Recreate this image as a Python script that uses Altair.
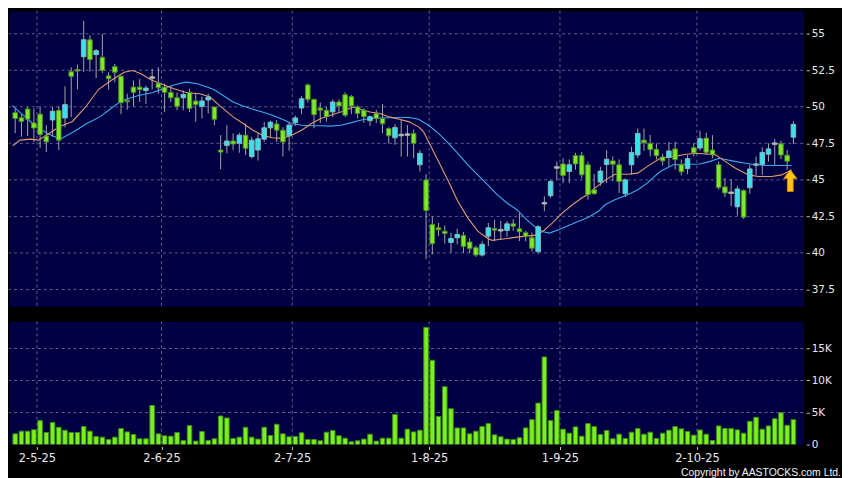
import altair as alt
import pandas as pd

# ---------------- data ----------------
opens = [49.6, 49.25, 49.85, 48.9, 49.5, 48.0, 49.1, 49.76, 49.24, 52.4,
         52.55, 53.43, 54.59, 53.57, 53.39, 52.12, 52.75, 52.1, 50.45, 51.35,
         51.35, 51.12, 52.0, 51.62, 51.35, 50.99, 50.62, 50.62, 50.99, 50.4,
         50.03, 50.47, 49.99, 47.04, 47.36, 47.66, 47.5, 48.06, 46.59, 47.04,
         47.79, 48.56, 48.83, 48.4, 48.02, 48.92, 49.92, 51.5, 50.51, 49.92,
         49.77, 49.65, 50.33, 50.83, 50.7, 49.99, 49.77, 49.05, 49.54, 49.2,
         48.51, 47.88, 48.07, 48.1, 48.18, 46.03, 45.0, 41.95, 41.72, 41.49,
         40.72, 41.04, 41.2, 40.75, 40.36, 39.86, 41.15, 41.68, 41.55, 41.54,
         41.99, 41.65, 41.38, 41.04, 40.09, 43.4, 43.92, 45.85, 46.09, 45.57,
         46.66, 46.66, 46.03, 44.33, 44.85, 46.05, 46.3, 46.03, 44.05, 46.03,
         46.71, 47.72, 47.5, 47.09, 46.57, 46.55, 47.12, 46.05, 45.78, 47.2,
         47.18, 47.86, 47.04, 46.03, 44.52, 44.12, 43.16, 44.27, 44.46, 46.0,
         46.05, 46.76, 47.48, 47.47, 46.69, 47.92]
highs = [49.9, 49.5, 50.0, 49.9, 50.0, 48.75, 50.0, 50.06, 51.4, 52.7,
         52.9, 55.88, 54.9, 53.95, 55.0, 52.37, 52.94, 52.14, 50.9, 51.8,
         51.9, 51.46, 52.6, 52.71, 51.58, 51.35, 50.97, 51.12, 51.24, 50.9,
         50.7, 50.9, 50.0, 48.06, 48.74, 48.18, 48.22, 48.86, 47.95, 48.18,
         48.97, 49.05, 49.1, 48.6, 48.96, 49.4, 50.75, 51.6, 50.55, 50.3,
         50.0, 50.5, 50.5, 51.0, 50.8, 50.1, 49.9, 49.4, 49.8, 50.2,
         48.6, 48.8, 49.1, 48.75, 48.45, 47.04, 45.39, 42.5, 42.06, 41.88,
         41.38, 41.65, 41.43, 41.0, 40.5, 40.8, 42.06, 42.27, 42.2, 42.2,
         42.3, 42.74, 41.5, 41.4, 41.9, 43.87, 45.0, 46.25, 46.48, 46.4,
         46.85, 46.9, 46.25, 45.4, 45.9, 47.04, 46.6, 46.4, 45.1, 47.27,
         48.52, 48.52, 48.07, 47.5, 46.8, 47.6, 47.61, 46.4, 46.7, 47.5,
         48.36, 48.23, 48.06, 46.25, 45.12, 45.05, 44.6, 44.35, 46.03, 46.6,
         47.23, 47.5, 47.79, 47.68, 47.05, 49.02]
lows = [48.2, 47.95, 48.0, 47.6, 47.2, 46.9, 47.95, 47.05, 48.6, 49.3,
        51.2, 52.37, 52.4, 51.96, 52.3, 51.19, 51.69, 49.49, 49.8, 50.0,
        50.33, 50.2, 51.2, 50.9, 49.65, 50.33, 49.76, 49.76, 49.65, 48.97,
        49.2, 49.54, 48.74, 45.73, 46.82, 47.04, 46.86, 46.7, 46.48, 46.32,
        47.61, 47.9, 47.6, 46.6, 47.0, 48.7, 49.5, 50.3, 48.53, 48.9,
        49.0, 49.3, 49.6, 49.3, 49.5, 49.2, 48.9, 48.7, 48.9, 48.2,
        47.5, 47.4, 46.6, 46.6, 46.48, 45.57, 39.57, 39.9, 41.15, 40.63,
        40.02, 40.59, 40.0, 40.0, 39.73, 39.75, 40.47, 40.81, 40.9, 41.1,
        41.5, 40.81, 40.8, 40.1, 39.95, 42.85, 43.76, 45.0, 44.78, 44.78,
        45.7, 45.1, 43.65, 44.0, 44.6, 44.78, 44.9, 44.1, 43.83, 45.35,
        46.5, 47.0, 46.6, 46.4, 46.0, 45.9, 45.7, 45.3, 45.39, 46.6,
        47.0, 46.7, 46.48, 44.33, 43.83, 43.19, 42.56, 42.33, 44.05, 45.35,
        45.35, 46.25, 46.03, 46.41, 45.7, 47.45]
closes = [49.2, 49.0, 49.15, 48.55, 48.1, 47.6, 49.7, 47.72, 50.15, 52.08,
          52.45, 54.59, 53.23, 53.84, 52.49, 51.92, 52.37, 50.28, 50.35, 50.99,
          51.17, 51.28, 52.0, 51.3, 50.99, 50.62, 50.03, 50.85, 49.9, 50.15,
          50.4, 50.67, 49.15, 46.9, 47.66, 47.45, 48.06, 47.16, 47.72, 47.81,
          48.56, 48.95, 48.4, 47.6, 48.75, 49.24, 50.55, 50.51, 49.46, 49.77,
          49.32, 50.33, 50.06, 49.43, 50.06, 49.54, 49.32, 49.32, 49.2, 48.84,
          48.02, 48.58, 48.07, 48.1, 47.5, 46.82, 42.9, 40.63, 41.58, 41.33,
          40.99, 41.27, 40.45, 40.3, 39.86, 40.59, 41.72, 41.56, 41.55, 41.99,
          41.83, 41.45, 41.15, 40.32, 41.79, 43.4, 44.89, 45.85, 45.3, 46.03,
          46.09, 45.35, 43.99, 44.05, 45.6, 46.41, 46.07, 44.89, 45.0, 46.88,
          48.18, 47.54, 47.07, 46.65, 46.3, 46.98, 46.39, 45.55, 46.45, 46.84,
          47.82, 46.89, 46.72, 44.48, 44.1, 44.12, 44.38, 42.45, 45.75, 46.1,
          46.88, 47.12, 47.48, 46.7, 46.28, 48.8]
volumes = [1670, 2090, 2090, 2300, 3740, 1880, 3430, 2700, 2240, 1880,
           1880, 2810, 2090, 1260, 1160, 800, 1160, 2500, 1980, 1570,
           900, 900, 6100, 1670, 1370, 1310, 1880, 640, 2960, 540,
           2040, 640, 900, 4460, 4150, 950, 1160, 2700, 1160, 850,
           2700, 1420, 3170, 1670, 1210, 1260, 1830, 800, 800, 590,
           1930, 2190, 1370, 1000, 440, 590, 850, 1620, 540, 1000,
           1000, 4710, 1000, 2400, 1980, 2240, 18300, 13160, 4400, 9040,
           5590, 2600, 2600, 1670, 2090, 2810, 3270, 1520, 1210, 850,
           800, 1060, 2600, 3890, 6470, 13680, 3740, 5330, 2400, 1780,
           2760, 1310, 3270, 2810, 1570, 2190, 900, 1620, 950, 1930,
           2500, 1620, 1930, 950, 1780, 2240, 2810, 2450, 2040, 1470,
           2290, 1620, 640, 2910, 2500, 2500, 2290, 1780, 3630, 4250,
           2400, 2910, 4040, 4970, 3010, 3890]

# first trading day of each month (candle index) and its label
month_first = [4, 24, 45, 67, 88, 110]
month_labels = ["2-5-25", "2-6-25", "2-7-25", "1-8-25", "1-9-25", "2-10-25"]

price_ticks = [37.5, 40, 42.5, 45, 47.5, 50, 52.5, 55]
volume_ticks = [0, 5000, 10000, 15000]
volume_grid = [5000, 10000, 15000]

# short moving average (orange)
ma_s_x = [-0.4, 0.8, 2.4, 3.7, 5.0, 7.1, 9.2, 11.3, 13.4, 15.4, 17.5, 18.9, 20.2,
          21.8, 23.4, 25.5, 27.6, 29.7, 31.3, 32.8, 35.0, 36.6, 38.2, 39.7, 41.3,
          42.9, 44.4, 46.0, 47.6, 49.1, 50.7, 52.3, 53.9, 54.4, 55.4, 57.0, 58.6,
          60.1, 61.7, 63.3, 64.8, 65.6, 66.4, 68.0, 69.6, 71.1, 72.7, 74.3, 75.9,
          76.6, 77.4, 79.0, 80.6, 82.1, 83.7, 84.8, 86.3, 87.9, 89.5, 91.0, 92.1,
          93.1, 94.7, 96.3, 98.4, 100.0, 101.5, 103.6, 105.7, 107.8, 109.4, 111.0,
          112.5, 114.1, 115.7, 117.8, 119.4, 121.5, 123.1, 124.7]
ma_s_y = [47.34, 47.72, 47.79, 47.72, 48.06, 48.63, 49.0, 49.99, 51.2, 51.8, 52.37, 52.48, 52.26,
          51.85, 51.58, 51.24, 50.96, 50.9, 50.67, 50.1, 49.31, 48.86, 48.4, 48.06, 47.88,
          47.84, 48.06, 48.4, 48.86, 49.2, 49.42, 49.65, 49.92, 49.99, 49.83, 49.65, 49.54,
          49.31, 49.15, 48.97, 48.63, 48.29, 47.61, 46.25, 44.89, 43.53, 42.4, 41.49, 40.99,
          40.86, 40.9, 40.99, 41.08, 41.15, 41.22, 41.49, 42.06, 42.74, 43.3, 43.76, 44.03,
          44.44, 44.95, 45.39, 45.39, 45.46, 45.91, 46.48, 46.59, 46.75, 46.82, 46.77,
          46.71, 46.25, 45.8, 45.34, 45.23, 45.23, 45.34, 45.68]
# long moving average (blue)
ma_l_x = [-0.5, 1.0, 3.1, 5.2, 7.2, 9.4, 11.5, 13.6, 15.7, 17.2, 19.8, 22.0, 24.0, 25.6,
          27.4, 29.3, 30.8, 31.9, 33.4, 35.0, 36.6, 38.2, 39.7, 41.3, 42.9, 44.4, 46.0,
          47.6, 49.1, 50.7, 52.3, 53.9, 55.4, 57.0, 58.6, 60.1, 61.7, 63.3, 64.8, 66.4,
          68.0, 69.6, 71.1, 72.7, 74.3, 75.9, 77.4, 79.0, 80.6, 82.1, 83.7, 84.8, 85.8,
          87.4, 89.0, 90.5, 92.1, 93.7, 94.7, 96.3, 98.4, 100.0, 101.5, 103.6, 105.7,
          107.8, 109.9, 111.5, 113.1, 115.2, 117.3, 118.9, 121.0, 122.5, 124.7]
ma_l_y = [50.1, 49.54, 48.74, 48.18, 47.79, 48.29, 48.86, 49.31, 49.99, 50.44, 50.78, 50.96, 51.28, 51.51,
          51.69, 51.58, 51.35, 51.19, 50.78, 50.33, 50.06, 49.83, 49.65, 49.42, 49.15, 48.86, 48.74,
          48.7, 48.7, 48.68, 48.74, 48.9, 49.08, 49.2, 49.24, 49.25, 49.27, 49.27, 49.15, 48.74,
          48.18, 47.5, 46.82, 46.03, 45.34, 44.66, 43.99, 43.42, 42.96, 42.29, 41.72, 41.45, 41.36,
          41.61, 41.9, 42.17, 42.44, 42.85, 43.28, 43.64, 43.99, 44.33, 44.78, 45.57, 46.03,
          46.07, 46.09, 46.25, 46.48, 46.3, 46.14, 46.03, 45.98, 45.98, 45.98]

arrow_x = [124.5]
arrow_y = [44.95]
copyright_text = ["Copyright by AASTOCKS.com Ltd."]

# ---------------- style ----------------
BG = "#000000"
NAVY = "#000042"
GRID_C = "#5e5e92"
WICK_C = "#a4a4a4"
FILL = {"up": "#36E2EE", "down": "#7EE82C", "flat": "#c0c4c4"}
STROKE = {"up": "#8fb3b8", "down": "#4c8c22", "flat": "#b0b0b0"}
MA_S_C = "#E39A6E"
MA_L_C = "#3FA9EC"
VOL_FILL = "#7CF01E"
VOL_STROKE = "#3d8c14"
LABEL_C = "#e8e8e8"
TICK_C = "#c8c8c8"

W = 800
H_PRICE = 298
H_VOL = 124
X_DOMAIN = [-0.2, 125.79]
PRICE_DOMAIN = [36.33, 56.58]
VOL_DOMAIN = [0, 19220]

# ---------------- tables ----------------
rows = []
for i in range(len(opens)):
    o, c = opens[i], closes[i]
    kind = "up" if c > o else ("down" if c < o else "flat")
    lo, hi = min(o, c), max(o, c)
    if kind == "flat":
        lo, hi = c - 0.05, c + 0.05
    rows.append({"i": i, "high": highs[i], "low": lows[i], "body_lo": lo,
                 "body_hi": hi, "vol": volumes[i], "fill": FILL[kind],
                 "stroke": STROKE[kind]})
candles = pd.DataFrame(rows)
grid_x = pd.DataFrame({"g": [m - 0.5 for m in month_first]})
grid_p = pd.DataFrame({"v": price_ticks})
grid_v = pd.DataFrame({"v": volume_grid})
ma_s = pd.DataFrame({"x": ma_s_x, "y": ma_s_y})
ma_l = pd.DataFrame({"x": ma_l_x, "y": ma_l_y})
arrow = pd.DataFrame({"x": arrow_x, "y": arrow_y})
copy_df = pd.DataFrame({"t": copyright_text})

x_scale = alt.Scale(domain=X_DOMAIN, nice=False, zero=False)
p_scale = alt.Scale(domain=PRICE_DOMAIN, nice=False, zero=False)
v_scale = alt.Scale(domain=VOL_DOMAIN, nice=False, zero=True)

p_axis = alt.Axis(orient="right", values=price_ticks, grid=False, domain=False,
                  tickSize=3, tickColor=TICK_C, offset=3, labelPadding=2,
                  labelColor=LABEL_C, labelFont="DejaVu Sans", labelFontSize=10.5,
                  format=".1~f", title=None)
v_axis = alt.Axis(orient="right", values=volume_ticks, grid=False, domain=False,
                  tickSize=3, tickColor=TICK_C, offset=3, labelPadding=2,
                  labelColor=LABEL_C, labelFont="DejaVu Sans", labelFontSize=10.5,
                  labelExpr="datum.value == 0 ? '0' : (datum.value / 1000) + 'K'",
                  title=None)
label_expr = "".join(f"datum.value == {m - 0.5} ? '{lab}' : "
                     for m, lab in zip(month_first, month_labels)) + "''"
x_axis = alt.Axis(orient="bottom", values=[m - 0.5 for m in month_first],
                  labelExpr=label_expr, grid=False, domain=False, tickSize=3,
                  tickColor=TICK_C, offset=2, labelPadding=3, labelColor=LABEL_C,
                  labelFont="DejaVu Sans", labelFontSize=11.5, labelFlush=False,
                  labelOverlap=False, title=None)

# ---------------- price panel ----------------
def px(field):
    return alt.X(field, scale=x_scale, axis=None)

def py(field):
    return alt.Y(field, scale=p_scale, axis=p_axis)

p_vgrid = alt.Chart(grid_x).mark_rule(color=GRID_C, strokeDash=[3, 3], strokeWidth=1).encode(x=px("g:Q"))
p_hgrid = alt.Chart(grid_p).mark_rule(color=GRID_C, strokeDash=[3, 3], strokeWidth=1).encode(y=py("v:Q"))
wicks = alt.Chart(candles).mark_rule(color=WICK_C, strokeWidth=1, clip=True).encode(
    x=px("i:Q"), y=py("low:Q"), y2="high:Q")
line_l = alt.Chart(ma_l).mark_line(color=MA_L_C, strokeWidth=1.1, clip=True).encode(x=px("x:Q"), y=py("y:Q"))
line_s = alt.Chart(ma_s).mark_line(color=MA_S_C, strokeWidth=1.1, clip=True).encode(x=px("x:Q"), y=py("y:Q"))
bodies = alt.Chart(candles).mark_bar(size=4.6, strokeWidth=1, clip=True).encode(
    x=px("i:Q"), y=py("body_lo:Q"), y2="body_hi:Q",
    fill=alt.Fill("fill:N", scale=None), stroke=alt.Stroke("stroke:N", scale=None))
ARROW_PATH = "M0,-1 L0.6,-0.2 L0.27,-0.2 L0.27,1 L-0.27,1 L-0.27,-0.2 L-0.6,-0.2 Z"
arrow_mark = alt.Chart(arrow).mark_point(shape=ARROW_PATH, size=484, filled=True,
                                         fill="#FFC31A", stroke="#D98E00", strokeWidth=0.8,
                                         opacity=1).encode(x=px("x:Q"), y=py("y:Q"))

price = alt.layer(p_vgrid, p_hgrid, wicks, line_l, line_s, bodies, arrow_mark).properties(
    width=W, height=H_PRICE)

# ---------------- volume panel ----------------
def vx(field):
    return alt.X(field, scale=x_scale, axis=x_axis)

def vy(field):
    return alt.Y(field, scale=v_scale, axis=v_axis)

v_vgrid = alt.Chart(grid_x).mark_rule(color=GRID_C, strokeDash=[3, 3], strokeWidth=1).encode(x=vx("g:Q"))
v_hgrid = alt.Chart(grid_v).mark_rule(color=GRID_C, strokeDash=[3, 3], strokeWidth=1).encode(y=vy("v:Q"))
vbars = alt.Chart(candles).mark_bar(size=4.6, fill=VOL_FILL, stroke=VOL_STROKE, strokeWidth=1,
                                    clip=True).encode(x=vx("i:Q"), y=vy("vol:Q"))
copy_mark = alt.Chart(copy_df).mark_text(align="right", baseline="alphabetic", color="#f2f2f2",
                                         font="Liberation Sans", fontSize=10.5).encode(
    text="t:N", x=alt.value(838), y=alt.value(156))

volume = alt.layer(v_vgrid, v_hgrid, vbars, copy_mark).properties(width=W, height=H_VOL)

chart = alt.vconcat(price, volume, spacing=13).properties(
    padding={"left": 0, "top": 0, "right": 0, "bottom": 0}, background=BG
).configure_view(fill=NAVY, stroke="transparent")

chart.save("out.html", embed_options={"renderer": "svg", "actions": False})
